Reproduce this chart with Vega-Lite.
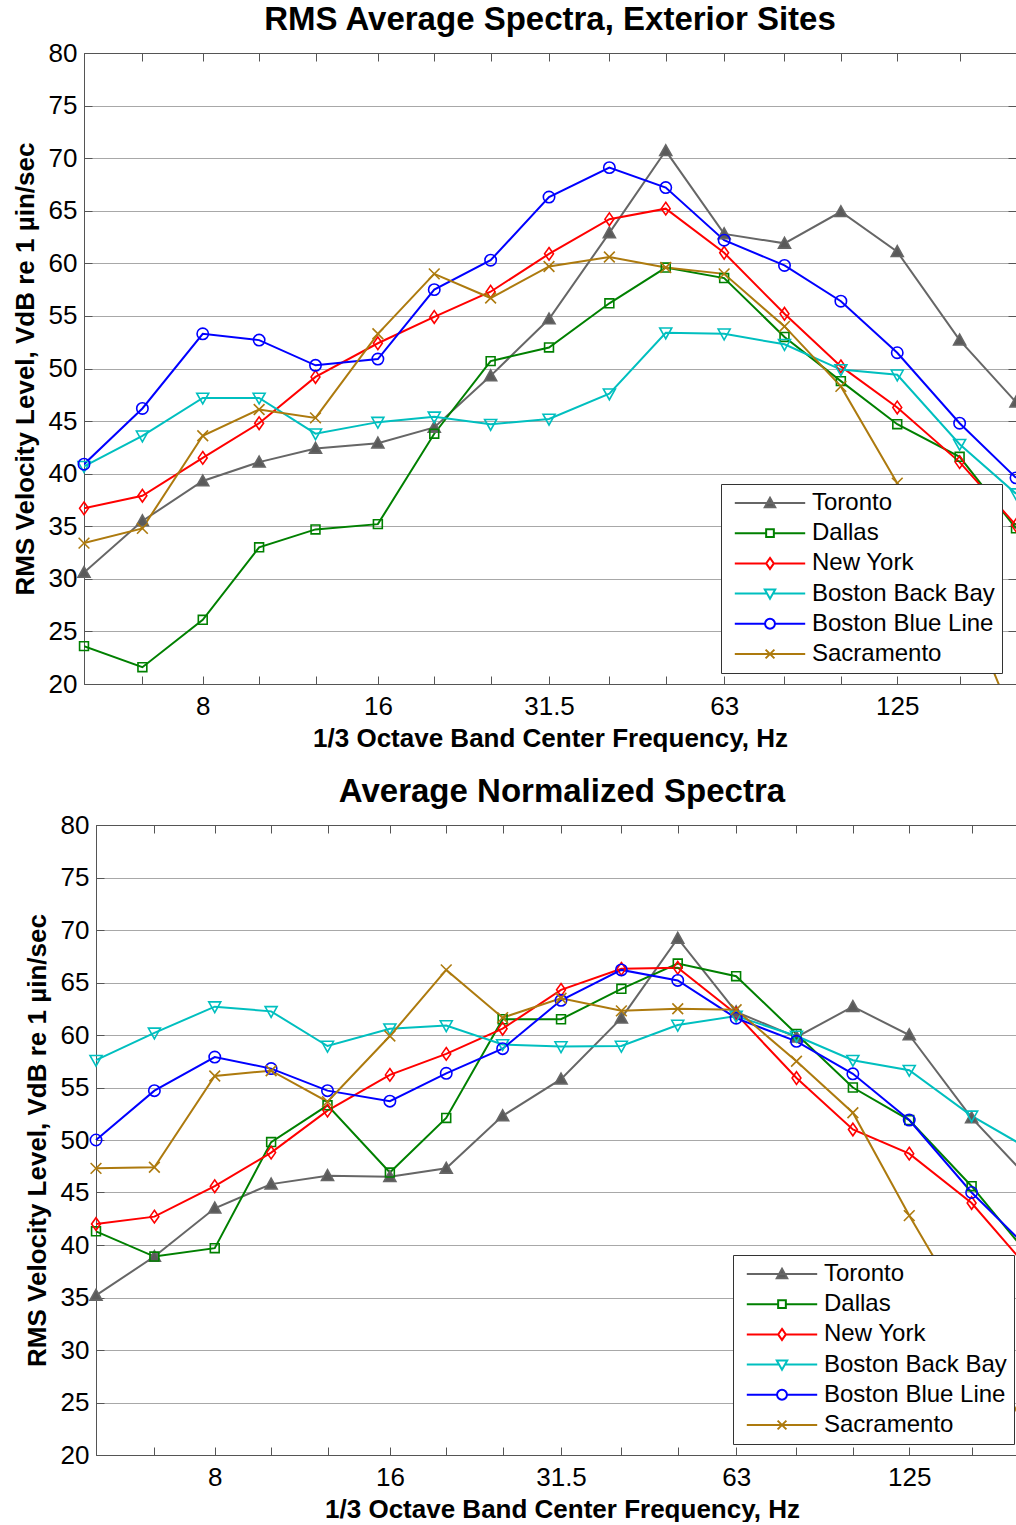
{
  "$schema": "https://vega.github.io/schema/vega-lite/v6.json",
  "background": "white",
  "padding": {"left": 12, "top": 4, "right": 0, "bottom": 0},
  "spacing": 25,
  "config": {
    "font": "Liberation Sans",
    "view": {"stroke": null},
    "axis": {
      "labelFont": "Liberation Sans", "labelFontSize": 26, "labelColor": "black",
      "titleFont": "Liberation Sans", "titleFontSize": 26, "titleFontWeight": "bold", "titleColor": "black",
      "tickColor": "#555555", "tickSize": -8, "tickWidth": 1,
      "domain": true, "domainColor": "#555555", "domainWidth": 1, "grid": false,
      "gridColor": "#a8a8a8", "gridWidth": 1.2, "labelOverlap": false, "labelFlush": false, "labelBound": false
    },
    "title": {"font": "Liberation Sans", "fontSize": 33, "fontWeight": "bold", "color": "black", "offset": 3},
    "legend": {"labelFont": "Liberation Sans"}
  },
  "datasets": {
    "exterior": [
      {"hz":5,"site":"Toronto","vdb":30.6},{"hz":6.3,"site":"Toronto","vdb":35.5},{"hz":8,"site":"Toronto","vdb":39.3},{"hz":10,"site":"Toronto","vdb":41.1},{"hz":12.5,"site":"Toronto","vdb":42.4},{"hz":16,"site":"Toronto","vdb":42.9},{"hz":20,"site":"Toronto","vdb":44.4},{"hz":25,"site":"Toronto","vdb":49.3},{"hz":31.5,"site":"Toronto","vdb":54.7},{"hz":40,"site":"Toronto","vdb":62.9},{"hz":50,"site":"Toronto","vdb":70.7},{"hz":63,"site":"Toronto","vdb":62.8},{"hz":80,"site":"Toronto","vdb":61.9},{"hz":100,"site":"Toronto","vdb":64.9},{"hz":125,"site":"Toronto","vdb":61.1},{"hz":160,"site":"Toronto","vdb":52.7},{"hz":200,"site":"Toronto","vdb":46.8},
      {"hz":5,"site":"Dallas","vdb":23.6},{"hz":6.3,"site":"Dallas","vdb":21.6},{"hz":8,"site":"Dallas","vdb":26.1},{"hz":10,"site":"Dallas","vdb":33.0},{"hz":12.5,"site":"Dallas","vdb":34.7},{"hz":16,"site":"Dallas","vdb":35.2},{"hz":20,"site":"Dallas","vdb":43.8},{"hz":25,"site":"Dallas","vdb":50.7},{"hz":31.5,"site":"Dallas","vdb":52.0},{"hz":40,"site":"Dallas","vdb":56.2},{"hz":50,"site":"Dallas","vdb":59.6},{"hz":63,"site":"Dallas","vdb":58.6},{"hz":80,"site":"Dallas","vdb":53.0},{"hz":100,"site":"Dallas","vdb":48.8},{"hz":125,"site":"Dallas","vdb":44.7},{"hz":160,"site":"Dallas","vdb":41.6},{"hz":200,"site":"Dallas","vdb":34.8},
      {"hz":5,"site":"New York","vdb":36.7},{"hz":6.3,"site":"New York","vdb":37.9},{"hz":8,"site":"New York","vdb":41.5},{"hz":10,"site":"New York","vdb":44.8},{"hz":12.5,"site":"New York","vdb":49.2},{"hz":16,"site":"New York","vdb":52.4},{"hz":20,"site":"New York","vdb":54.9},{"hz":25,"site":"New York","vdb":57.3},{"hz":31.5,"site":"New York","vdb":60.9},{"hz":40,"site":"New York","vdb":64.2},{"hz":50,"site":"New York","vdb":65.2},{"hz":63,"site":"New York","vdb":61.0},{"hz":80,"site":"New York","vdb":55.2},{"hz":100,"site":"New York","vdb":50.2},{"hz":125,"site":"New York","vdb":46.3},{"hz":160,"site":"New York","vdb":41.1},{"hz":200,"site":"New York","vdb":35.1},
      {"hz":5,"site":"Boston Back Bay","vdb":40.7},{"hz":6.3,"site":"Boston Back Bay","vdb":43.6},{"hz":8,"site":"Boston Back Bay","vdb":47.2},{"hz":10,"site":"Boston Back Bay","vdb":47.2},{"hz":12.5,"site":"Boston Back Bay","vdb":43.8},{"hz":16,"site":"Boston Back Bay","vdb":44.9},{"hz":20,"site":"Boston Back Bay","vdb":45.4},{"hz":25,"site":"Boston Back Bay","vdb":44.7},{"hz":31.5,"site":"Boston Back Bay","vdb":45.2},{"hz":40,"site":"Boston Back Bay","vdb":47.6},{"hz":50,"site":"Boston Back Bay","vdb":53.4},{"hz":63,"site":"Boston Back Bay","vdb":53.3},{"hz":80,"site":"Boston Back Bay","vdb":52.3},{"hz":100,"site":"Boston Back Bay","vdb":49.9},{"hz":125,"site":"Boston Back Bay","vdb":49.4},{"hz":160,"site":"Boston Back Bay","vdb":42.8},{"hz":200,"site":"Boston Back Bay","vdb":38.1},
      {"hz":5,"site":"Boston Blue Line","vdb":40.9},{"hz":6.3,"site":"Boston Blue Line","vdb":46.2},{"hz":8,"site":"Boston Blue Line","vdb":53.3},{"hz":10,"site":"Boston Blue Line","vdb":52.7},{"hz":12.5,"site":"Boston Blue Line","vdb":50.3},{"hz":16,"site":"Boston Blue Line","vdb":50.9},{"hz":20,"site":"Boston Blue Line","vdb":57.5},{"hz":25,"site":"Boston Blue Line","vdb":60.3},{"hz":31.5,"site":"Boston Blue Line","vdb":66.3},{"hz":40,"site":"Boston Blue Line","vdb":69.1},{"hz":50,"site":"Boston Blue Line","vdb":67.2},{"hz":63,"site":"Boston Blue Line","vdb":62.2},{"hz":80,"site":"Boston Blue Line","vdb":59.8},{"hz":100,"site":"Boston Blue Line","vdb":56.4},{"hz":125,"site":"Boston Blue Line","vdb":51.5},{"hz":160,"site":"Boston Blue Line","vdb":44.8},{"hz":200,"site":"Boston Blue Line","vdb":39.6},
      {"hz":5,"site":"Sacramento","vdb":33.4},{"hz":6.3,"site":"Sacramento","vdb":34.8},{"hz":8,"site":"Sacramento","vdb":43.6},{"hz":10,"site":"Sacramento","vdb":46.1},{"hz":12.5,"site":"Sacramento","vdb":45.3},{"hz":16,"site":"Sacramento","vdb":53.3},{"hz":20,"site":"Sacramento","vdb":59.0},{"hz":25,"site":"Sacramento","vdb":56.7},{"hz":31.5,"site":"Sacramento","vdb":59.7},{"hz":40,"site":"Sacramento","vdb":60.6},{"hz":50,"site":"Sacramento","vdb":59.6},{"hz":63,"site":"Sacramento","vdb":59.0},{"hz":80,"site":"Sacramento","vdb":54.0},{"hz":100,"site":"Sacramento","vdb":48.3},{"hz":125,"site":"Sacramento","vdb":39.1},{"hz":160,"site":"Sacramento","vdb":29.0},{"hz":200,"site":"Sacramento","vdb":16.0}
    ],
    "normalized": [
      {"hz":5,"site":"Toronto","vdb":35.2},{"hz":6.3,"site":"Toronto","vdb":38.9},{"hz":8,"site":"Toronto","vdb":43.5},{"hz":10,"site":"Toronto","vdb":45.8},{"hz":12.5,"site":"Toronto","vdb":46.6},{"hz":16,"site":"Toronto","vdb":46.5},{"hz":20,"site":"Toronto","vdb":47.3},{"hz":25,"site":"Toronto","vdb":52.3},{"hz":31.5,"site":"Toronto","vdb":55.8},{"hz":40,"site":"Toronto","vdb":61.6},{"hz":50,"site":"Toronto","vdb":69.2},{"hz":63,"site":"Toronto","vdb":62.2},{"hz":80,"site":"Toronto","vdb":59.8},{"hz":100,"site":"Toronto","vdb":62.7},{"hz":125,"site":"Toronto","vdb":60.0},{"hz":160,"site":"Toronto","vdb":52.1},{"hz":200,"site":"Toronto","vdb":46.4},
      {"hz":5,"site":"Dallas","vdb":41.3},{"hz":6.3,"site":"Dallas","vdb":38.9},{"hz":8,"site":"Dallas","vdb":39.7},{"hz":10,"site":"Dallas","vdb":49.8},{"hz":12.5,"site":"Dallas","vdb":53.3},{"hz":16,"site":"Dallas","vdb":46.9},{"hz":20,"site":"Dallas","vdb":52.1},{"hz":25,"site":"Dallas","vdb":61.5},{"hz":31.5,"site":"Dallas","vdb":61.5},{"hz":40,"site":"Dallas","vdb":64.4},{"hz":50,"site":"Dallas","vdb":66.8},{"hz":63,"site":"Dallas","vdb":65.6},{"hz":80,"site":"Dallas","vdb":60.1},{"hz":100,"site":"Dallas","vdb":55.0},{"hz":125,"site":"Dallas","vdb":51.9},{"hz":160,"site":"Dallas","vdb":45.6},{"hz":200,"site":"Dallas","vdb":39.1},
      {"hz":5,"site":"New York","vdb":42.0},{"hz":6.3,"site":"New York","vdb":42.7},{"hz":8,"site":"New York","vdb":45.6},{"hz":10,"site":"New York","vdb":48.8},{"hz":12.5,"site":"New York","vdb":52.8},{"hz":16,"site":"New York","vdb":56.2},{"hz":20,"site":"New York","vdb":58.2},{"hz":25,"site":"New York","vdb":60.6},{"hz":31.5,"site":"New York","vdb":64.3},{"hz":40,"site":"New York","vdb":66.3},{"hz":50,"site":"New York","vdb":66.4},{"hz":63,"site":"New York","vdb":62.0},{"hz":80,"site":"New York","vdb":55.9},{"hz":100,"site":"New York","vdb":51.0},{"hz":125,"site":"New York","vdb":48.7},{"hz":160,"site":"New York","vdb":44.0},{"hz":200,"site":"New York","vdb":37.8},
      {"hz":5,"site":"Boston Back Bay","vdb":57.6},{"hz":6.3,"site":"Boston Back Bay","vdb":60.2},{"hz":8,"site":"Boston Back Bay","vdb":62.7},{"hz":10,"site":"Boston Back Bay","vdb":62.25},{"hz":12.5,"site":"Boston Back Bay","vdb":58.95},{"hz":16,"site":"Boston Back Bay","vdb":60.6},{"hz":20,"site":"Boston Back Bay","vdb":60.9},{"hz":25,"site":"Boston Back Bay","vdb":59.1},{"hz":31.5,"site":"Boston Back Bay","vdb":58.9},{"hz":40,"site":"Boston Back Bay","vdb":58.95},{"hz":50,"site":"Boston Back Bay","vdb":60.95},{"hz":63,"site":"Boston Back Bay","vdb":61.8},{"hz":80,"site":"Boston Back Bay","vdb":59.9},{"hz":100,"site":"Boston Back Bay","vdb":57.6},{"hz":125,"site":"Boston Back Bay","vdb":56.65},{"hz":160,"site":"Boston Back Bay","vdb":52.3},{"hz":200,"site":"Boston Back Bay","vdb":49.2},
      {"hz":5,"site":"Boston Blue Line","vdb":50.0},{"hz":6.3,"site":"Boston Blue Line","vdb":54.7},{"hz":8,"site":"Boston Blue Line","vdb":57.9},{"hz":10,"site":"Boston Blue Line","vdb":56.8},{"hz":12.5,"site":"Boston Blue Line","vdb":54.7},{"hz":16,"site":"Boston Blue Line","vdb":53.7},{"hz":20,"site":"Boston Blue Line","vdb":56.35},{"hz":25,"site":"Boston Blue Line","vdb":58.7},{"hz":31.5,"site":"Boston Blue Line","vdb":63.3},{"hz":40,"site":"Boston Blue Line","vdb":66.2},{"hz":50,"site":"Boston Blue Line","vdb":65.2},{"hz":63,"site":"Boston Blue Line","vdb":61.6},{"hz":80,"site":"Boston Blue Line","vdb":59.4},{"hz":100,"site":"Boston Blue Line","vdb":56.3},{"hz":125,"site":"Boston Blue Line","vdb":51.9},{"hz":160,"site":"Boston Blue Line","vdb":45.0},{"hz":200,"site":"Boston Blue Line","vdb":39.7},
      {"hz":5,"site":"Sacramento","vdb":47.3},{"hz":6.3,"site":"Sacramento","vdb":47.4},{"hz":8,"site":"Sacramento","vdb":56.1},{"hz":10,"site":"Sacramento","vdb":56.6},{"hz":12.5,"site":"Sacramento","vdb":53.65},{"hz":16,"site":"Sacramento","vdb":59.9},{"hz":20,"site":"Sacramento","vdb":66.2},{"hz":25,"site":"Sacramento","vdb":61.65},{"hz":31.5,"site":"Sacramento","vdb":63.5},{"hz":40,"site":"Sacramento","vdb":62.3},{"hz":50,"site":"Sacramento","vdb":62.5},{"hz":63,"site":"Sacramento","vdb":62.4},{"hz":80,"site":"Sacramento","vdb":57.5},{"hz":100,"site":"Sacramento","vdb":52.6},{"hz":125,"site":"Sacramento","vdb":42.8},{"hz":160,"site":"Sacramento","vdb":32.7},{"hz":200,"site":"Sacramento","vdb":22.0}
    ]
  },
  "vconcat": [
    {
      "title": "RMS Average Spectra, Exterior Sites",
      "width": 932,
      "height": 631,
      "data": {"name": "exterior"},
      "resolve": {
        "scale": {"stroke": "independent", "fill": "independent", "shape": "independent"},
        "axis": {"x": "independent", "y": "independent"}
      },
      "layer": [
        {
          "mark": {"type": "line", "strokeWidth": 2, "clip": true},
          "encoding": {
            "x": {"field": "hz", "type": "quantitative",
              "scale": {"type": "log", "domain": [5, 200], "nice": false},
              "axis": {"orient": "bottom", "title": "1/3 Octave Band Center Frequency, Hz",
                "values": [5, 6.3, 8, 10, 12.5, 16, 20, 25, 31.5, 40, 50, 63, 80, 100, 125, 160, 200],
                "format": "~g", "labelExpr": "indexof([8, 16, 31.5, 63, 125], datum.value) >= 0 ? datum.label : ''",
                "labelPadding": 17, "titlePadding": 6}},
            "y": {"field": "vdb", "type": "quantitative",
              "scale": {"domain": [20, 80], "nice": false, "zero": false},
              "axis": {"orient": "left", "title": "RMS Velocity Level, VdB re 1 µin/sec",
                "values": [20, 25, 30, 35, 40, 45, 50, 55, 60, 65, 70, 75, 80],
                "grid": true, "labelPadding": 15, "titlePadding": 10}},
            "stroke": {"field": "site", "type": "nominal", "legend": null,
              "scale": {"domain": ["Toronto", "Dallas", "New York", "Boston Back Bay", "Boston Blue Line", "Sacramento"],
                "range": ["#666666", "#008000", "#ff0000", "#00bfbf", "#0000ff", "#ad7a0e"]}}
          }
        },
        {
          "transform": [{"filter": "datum.vdb >= 20"}],
          "mark": {"type": "point", "strokeWidth": 1.6, "size": 160, "opacity": 1},
          "encoding": {
            "x": {"field": "hz", "type": "quantitative",
              "scale": {"type": "log", "domain": [5, 200], "nice": false},
              "axis": {"orient": "top", "title": null, "labels": false,
                "values": [5, 6.3, 8, 10, 12.5, 16, 20, 25, 31.5, 40, 50, 63, 80, 100, 125, 160, 200]}},
            "y": {"field": "vdb", "type": "quantitative",
              "scale": {"domain": [20, 80], "nice": false, "zero": false},
              "axis": {"orient": "right", "title": null, "labels": false,
                "values": [20, 25, 30, 35, 40, 45, 50, 55, 60, 65, 70, 75, 80]}},
            "stroke": {"field": "site", "type": "nominal", "legend": null,
              "scale": {"domain": ["Toronto", "Dallas", "New York", "Boston Back Bay", "Boston Blue Line", "Sacramento"],
                "range": ["#666666", "#008000", "#ff0000", "#00bfbf", "#0000ff", "#ad7a0e"]}},
            "fill": {"field": "site", "type": "nominal", "legend": null,
              "scale": {"domain": ["Toronto", "Dallas", "New York", "Boston Back Bay", "Boston Blue Line", "Sacramento"],
                "range": ["#5a5a5a", "transparent", "transparent", "transparent", "transparent", "transparent"]}},
            "shape": {"field": "site", "type": "nominal", "legend": null,
              "scale": {"domain": ["Toronto", "Dallas", "New York", "Boston Back Bay", "Boston Blue Line", "Sacramento"],
                "range": ["M0,-0.95L0.95,0.75H-0.95Z", "M-0.7,-0.7H0.7V0.7H-0.7Z", "M0,-1L0.7,0L0,1L-0.7,0Z", "M-0.95,-0.75H0.95L0,0.95Z", "M0.9,0A0.9,0.9,0,1,1,-0.9,0A0.9,0.9,0,1,1,0.9,0Z", "M-0.85,-0.85L0.85,0.85M-0.85,0.85L0.85,-0.85"]}}
          }
        },
        {
          "transform": [{"filter": "false"}],
          "mark": {"type": "point", "strokeWidth": 2, "opacity": 1},
          "encoding": {
            "stroke": {"field": "site", "type": "nominal",
              "scale": {"domain": ["Toronto", "Dallas", "New York", "Boston Back Bay", "Boston Blue Line", "Sacramento"],
                "range": ["#666666", "#008000", "#ff0000", "#00bfbf", "#0000ff", "#ad7a0e"]},
              "legend": {"title": null, "orient": "none", "legendX": 637, "legendY": 431, "padding": 7,
                "strokeColor": "#333333", "fillColor": "white", "labelFontSize": 24, "labelColor": "black", "labelLimit": 400,
                "symbolSize": 121, "symbolStrokeWidth": 2, "symbolOffset": 30, "labelOffset": 30, "rowPadding": 6.2, "zindex": 2}},
            "fill": {"field": "site", "type": "nominal",
              "scale": {"domain": ["Toronto", "Dallas", "New York", "Boston Back Bay", "Boston Blue Line", "Sacramento"],
                "range": ["#5a5a5a", "transparent", "transparent", "transparent", "transparent", "transparent"]},
              "legend": {"title": null, "orient": "none", "legendX": 637, "legendY": 431, "padding": 7,
                "strokeColor": "#333333", "fillColor": "white", "labelFontSize": 24, "labelColor": "black", "labelLimit": 400,
                "symbolSize": 121, "symbolStrokeWidth": 2, "symbolOffset": 30, "labelOffset": 30, "rowPadding": 6.2, "zindex": 2}},
            "shape": {"field": "site", "type": "nominal",
              "scale": {"domain": ["Toronto", "Dallas", "New York", "Boston Back Bay", "Boston Blue Line", "Sacramento"],
                "range": ["M-6.4,0H6.4M0,-0.95L0.95,0.75H-0.95Z", "M-6.4,0H-0.7M0.7,0H6.4M-0.7,-0.7H0.7V0.7H-0.7Z", "M-6.4,0H-0.7M0.7,0H6.4M0,-1L0.7,0L0,1L-0.7,0Z", "M-6.4,0H-0.53M0.53,0H6.4M-0.95,-0.75H0.95L0,0.95Z", "M-6.4,0H-0.9M0.9,0H6.4M0.9,0A0.9,0.9,0,1,1,-0.9,0A0.9,0.9,0,1,1,0.9,0Z", "M-6.4,0H6.4M-0.8,-0.8L0.8,0.8M-0.8,0.8L0.8,-0.8"]},
              "legend": {"title": null, "orient": "none", "legendX": 637, "legendY": 431, "padding": 7,
                "strokeColor": "#333333", "fillColor": "white", "labelFontSize": 24, "labelColor": "black", "labelLimit": 400,
                "symbolSize": 121, "symbolStrokeWidth": 2, "symbolOffset": 30, "labelOffset": 30, "rowPadding": 6.2, "zindex": 2}}
          }
        }
      ]
    },
    {
      "title": {"text": "Average Normalized Spectra", "dx": 6},
      "width": 944,
      "height": 630,
      "data": {"name": "normalized"},
      "resolve": {
        "scale": {"stroke": "independent", "fill": "independent", "shape": "independent"},
        "axis": {"x": "independent", "y": "independent"}
      },
      "layer": [
        {
          "mark": {"type": "line", "strokeWidth": 2, "clip": true},
          "encoding": {
            "x": {"field": "hz", "type": "quantitative",
              "scale": {"type": "log", "domain": [5, 200], "range": [12, 944], "nice": false},
              "axis": {"orient": "bottom", "title": "1/3 Octave Band Center Frequency, Hz",
                "values": [5, 6.3, 8, 10, 12.5, 16, 20, 25, 31.5, 40, 50, 63, 80, 100, 125, 160, 200],
                "format": "~g", "labelExpr": "indexof([8, 16, 31.5, 63, 125], datum.value) >= 0 ? datum.label : ''",
                "labelPadding": 17, "titlePadding": 6}},
            "y": {"field": "vdb", "type": "quantitative",
              "scale": {"domain": [20, 80], "nice": false, "zero": false},
              "axis": {"orient": "left", "offset": -12, "title": "RMS Velocity Level, VdB re 1 µin/sec",
                "values": [20, 25, 30, 35, 40, 45, 50, 55, 60, 65, 70, 75, 80],
                "grid": true, "labelPadding": 15, "titlePadding": 10}},
            "stroke": {"field": "site", "type": "nominal", "legend": null,
              "scale": {"domain": ["Toronto", "Dallas", "New York", "Boston Back Bay", "Boston Blue Line", "Sacramento"],
                "range": ["#666666", "#008000", "#ff0000", "#00bfbf", "#0000ff", "#ad7a0e"]}}
          }
        },
        {
          "transform": [{"filter": "datum.vdb >= 20"}],
          "mark": {"type": "point", "strokeWidth": 1.6, "size": 160, "opacity": 1},
          "encoding": {
            "x": {"field": "hz", "type": "quantitative",
              "scale": {"type": "log", "domain": [5, 200], "range": [12, 944], "nice": false},
              "axis": {"orient": "top", "title": null, "labels": false,
                "values": [5, 6.3, 8, 10, 12.5, 16, 20, 25, 31.5, 40, 50, 63, 80, 100, 125, 160, 200]}},
            "y": {"field": "vdb", "type": "quantitative",
              "scale": {"domain": [20, 80], "nice": false, "zero": false},
              "axis": {"orient": "right", "title": null, "labels": false,
                "values": [20, 25, 30, 35, 40, 45, 50, 55, 60, 65, 70, 75, 80]}},
            "stroke": {"field": "site", "type": "nominal", "legend": null,
              "scale": {"domain": ["Toronto", "Dallas", "New York", "Boston Back Bay", "Boston Blue Line", "Sacramento"],
                "range": ["#666666", "#008000", "#ff0000", "#00bfbf", "#0000ff", "#ad7a0e"]}},
            "fill": {"field": "site", "type": "nominal", "legend": null,
              "scale": {"domain": ["Toronto", "Dallas", "New York", "Boston Back Bay", "Boston Blue Line", "Sacramento"],
                "range": ["#5a5a5a", "transparent", "transparent", "transparent", "transparent", "transparent"]}},
            "shape": {"field": "site", "type": "nominal", "legend": null,
              "scale": {"domain": ["Toronto", "Dallas", "New York", "Boston Back Bay", "Boston Blue Line", "Sacramento"],
                "range": ["M0,-0.95L0.95,0.75H-0.95Z", "M-0.7,-0.7H0.7V0.7H-0.7Z", "M0,-1L0.7,0L0,1L-0.7,0Z", "M-0.95,-0.75H0.95L0,0.95Z", "M0.9,0A0.9,0.9,0,1,1,-0.9,0A0.9,0.9,0,1,1,0.9,0Z", "M-0.85,-0.85L0.85,0.85M-0.85,0.85L0.85,-0.85"]}}
          }
        },
        {
          "transform": [{"filter": "false"}],
          "mark": {"type": "point", "strokeWidth": 2, "opacity": 1},
          "encoding": {
            "stroke": {"field": "site", "type": "nominal",
              "scale": {"domain": ["Toronto", "Dallas", "New York", "Boston Back Bay", "Boston Blue Line", "Sacramento"],
                "range": ["#666666", "#008000", "#ff0000", "#00bfbf", "#0000ff", "#ad7a0e"]},
              "legend": {"title": null, "orient": "none", "legendX": 649, "legendY": 430, "padding": 7,
                "strokeColor": "#333333", "fillColor": "white", "labelFontSize": 24, "labelColor": "black", "labelLimit": 400,
                "symbolSize": 121, "symbolStrokeWidth": 2, "symbolOffset": 30, "labelOffset": 30, "rowPadding": 6.2, "zindex": 2}},
            "fill": {"field": "site", "type": "nominal",
              "scale": {"domain": ["Toronto", "Dallas", "New York", "Boston Back Bay", "Boston Blue Line", "Sacramento"],
                "range": ["#5a5a5a", "transparent", "transparent", "transparent", "transparent", "transparent"]},
              "legend": {"title": null, "orient": "none", "legendX": 649, "legendY": 430, "padding": 7,
                "strokeColor": "#333333", "fillColor": "white", "labelFontSize": 24, "labelColor": "black", "labelLimit": 400,
                "symbolSize": 121, "symbolStrokeWidth": 2, "symbolOffset": 30, "labelOffset": 30, "rowPadding": 6.2, "zindex": 2}},
            "shape": {"field": "site", "type": "nominal",
              "scale": {"domain": ["Toronto", "Dallas", "New York", "Boston Back Bay", "Boston Blue Line", "Sacramento"],
                "range": ["M-6.4,0H6.4M0,-0.95L0.95,0.75H-0.95Z", "M-6.4,0H-0.7M0.7,0H6.4M-0.7,-0.7H0.7V0.7H-0.7Z", "M-6.4,0H-0.7M0.7,0H6.4M0,-1L0.7,0L0,1L-0.7,0Z", "M-6.4,0H-0.53M0.53,0H6.4M-0.95,-0.75H0.95L0,0.95Z", "M-6.4,0H-0.9M0.9,0H6.4M0.9,0A0.9,0.9,0,1,1,-0.9,0A0.9,0.9,0,1,1,0.9,0Z", "M-6.4,0H6.4M-0.8,-0.8L0.8,0.8M-0.8,0.8L0.8,-0.8"]},
              "legend": {"title": null, "orient": "none", "legendX": 649, "legendY": 430, "padding": 7,
                "strokeColor": "#333333", "fillColor": "white", "labelFontSize": 24, "labelColor": "black", "labelLimit": 400,
                "symbolSize": 121, "symbolStrokeWidth": 2, "symbolOffset": 30, "labelOffset": 30, "rowPadding": 6.2, "zindex": 2}}
          }
        }
      ]
    }
  ]
}
